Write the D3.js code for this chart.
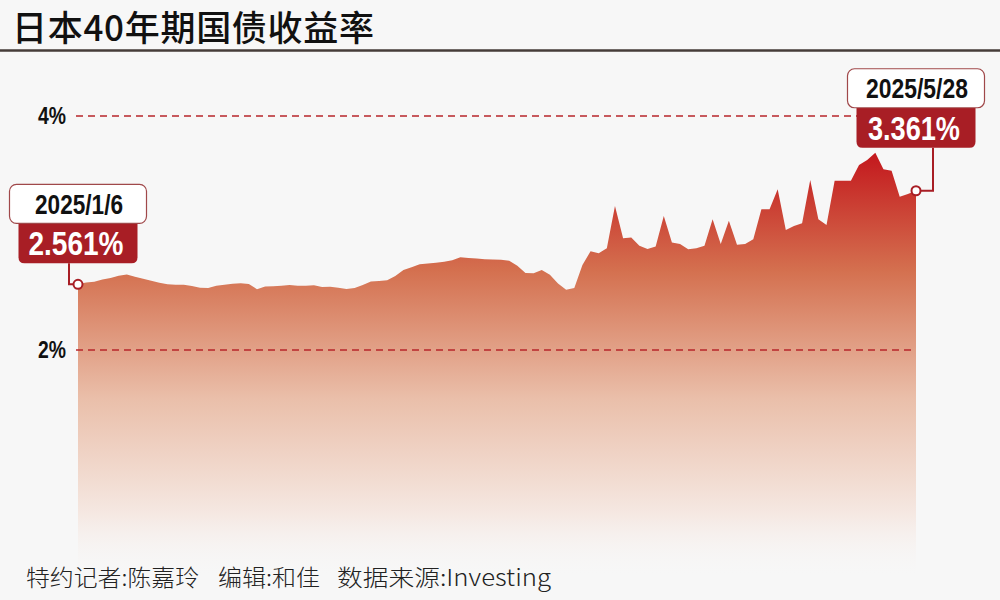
<!DOCTYPE html>
<html><head><meta charset="utf-8">
<script src="https://cdn.jsdelivr.net/npm/d3@7/dist/d3.min.js"></script>
<style>body{margin:0;background:#f7f7f7;} svg{display:block}</style>
</head><body><svg id="c" width="1000" height="600"></svg>
<script>
const titleText = "日本40年期国债收益率";
const footerParts = ["特约记者:陈嘉玲", "编辑:和佳", "数据来源:Investing"];
const startLabel = "2025/1/6";
const endLabel = "2025/5/28";
const yTicks = [2, 4];
const yTickLabels = ["2%", "4%"];
// 40-year JGB yield (%), trading days 2025/1/6 - 2025/5/28
const yields = [
  2.561, 2.577, 2.584, 2.603, 2.616, 2.635, 2.645, 2.627, 2.609, 2.591,
  2.574, 2.562, 2.558, 2.558, 2.547, 2.532, 2.530, 2.549, 2.558, 2.566,
  2.571, 2.564, 2.520, 2.542, 2.545, 2.550, 2.556, 2.550, 2.549, 2.554,
  2.538, 2.540, 2.533, 2.521, 2.530, 2.556, 2.585, 2.590, 2.597, 2.632,
  2.684, 2.708, 2.732, 2.739, 2.746, 2.754, 2.768, 2.792, 2.786, 2.781,
  2.776, 2.774, 2.772, 2.763, 2.720, 2.658, 2.657, 2.683, 2.643, 2.568,
  2.515, 2.530, 2.726, 2.844, 2.827, 2.869, 3.231, 2.956, 2.962, 2.892,
  2.863, 2.885, 3.145, 2.918, 2.906, 2.862, 2.869, 2.891, 3.117, 2.906,
  3.105, 2.900, 2.906, 2.946, 3.203, 3.203, 3.374, 3.026, 3.060, 3.083,
  3.453, 3.117, 3.068, 3.447, 3.447, 3.447, 3.581, 3.624, 3.686, 3.544,
  3.532, 3.310, 3.333, 3.361
];

const svg = d3.select("#c");
const W = 1000, H = 600;
const bold = "'Liberation Sans','Arial',sans-serif";
const cjk = "'Noto Sans CJK SC','Noto Sans',sans-serif";

svg.append("rect").attr("width", W).attr("height", H).attr("fill", "#f7f7f7");

// title
svg.append("text").attr("x", 12).attr("y", 41)
  .attr("font-family", cjk).attr("font-size", 35).attr("font-weight", 500)
  .attr("fill", "#111").attr("textLength", 362).attr("lengthAdjust", "spacing")
  .text(titleText);
svg.append("line").attr("x1", 0).attr("x2", W).attr("y1", 50.5).attr("y2", 50.5)
  .attr("stroke", "#463d39").attr("stroke-width", 2.5);

const x = d3.scaleLinear().domain([0, yields.length - 1]).range([78, 916]);
const y = d3.scaleLinear().domain([2, 4]).range([350, 116]);

// gradient
const defs = svg.append("defs");
const g = defs.append("linearGradient").attr("id", "ag")
  .attr("gradientUnits", "userSpaceOnUse")
  .attr("x1", 0).attr("x2", 0).attr("y1", y(3.7)).attr("y2", 578);
[[0, "#c3161c", 1], [0.28, "#d4704f", 1], [0.58, "#eabfaa", 1], [0.85, "#f5e8e2", 1], [1, "#f7f7f7", 0]]
  .forEach(s => g.append("stop").attr("offset", s[0]).attr("stop-color", s[1]).attr("stop-opacity", s[2]));

const area = d3.area().x((d, i) => x(i)).y0(y(0)).y1(d => y(d));
svg.append("path").datum(yields).attr("d", area).attr("fill", "url(#ag)");

// grid + tick labels
yTicks.forEach((t, i) => {
  svg.append("line").attr("x1", 76).attr("x2", 916).attr("y1", y(t)).attr("y2", y(t))
    .attr("stroke", "#b8262b").attr("stroke-width", 1.3).attr("stroke-dasharray", "7,5");
  svg.append("text").attr("x", 66).attr("y", y(t)).attr("dy", "0.36em")
    .attr("text-anchor", "end").attr("font-family", bold).attr("font-weight", "bold")
    .attr("font-size", 23).attr("fill", "#111")
    .attr("textLength", 28).attr("lengthAdjust", "spacingAndGlyphs")
    .text(yTickLabels[i]);
});

// annotations
function annotate(idx, dateText, side, dateW, valW) {
  const px = x(idx), py = y(yields[idx]);
  const red = "#a81e25";
  let elbowX, by;
  if (side === "left") { elbowX = px - 9; by = py - 21; }
  else { elbowX = px + 17; by = py - 43; }
  const bx = px;
  svg.append("path")
    .attr("d", `M${px},${py} H${elbowX} V${by}`)
    .attr("fill", "none").attr("stroke", red).attr("stroke-width", 2);
  const rw = 119, rh = 40, r = 6;
  const rx0 = bx - rw / 2, ry0 = by - rh;
  svg.append("path").attr("d",
    `M${rx0},${ry0} H${rx0 + rw} V${by - r} Q${rx0 + rw},${by} ${rx0 + rw - r},${by} H${rx0 + r} Q${rx0},${by} ${rx0},${by - r} Z`)
    .attr("fill", red);
  svg.append("text").attr("x", bx - 2).attr("y", ry0 + rh / 2).attr("dy", "0.36em")
    .attr("text-anchor", "middle").attr("font-family", bold).attr("font-weight", "bold")
    .attr("font-size", 33).attr("fill", "#fff")
    .attr("textLength", valW).attr("lengthAdjust", "spacingAndGlyphs")
    .text(yields[idx].toFixed(3) + "%");
  const ww = 137, wh = 39;
  svg.append("rect").attr("x", bx - ww / 2).attr("y", ry0 - wh)
    .attr("width", ww).attr("height", wh).attr("rx", 7)
    .attr("fill", "#fff").attr("stroke", "#a0484a").attr("stroke-width", 1.2);
  svg.append("text").attr("x", bx + 1).attr("y", ry0 - wh / 2).attr("dy", "0.36em")
    .attr("text-anchor", "middle").attr("font-family", bold).attr("font-weight", "bold")
    .attr("font-size", 27).attr("fill", "#111")
    .attr("textLength", dateW).attr("lengthAdjust", "spacingAndGlyphs")
    .text(dateText);
  svg.append("circle").attr("cx", px).attr("cy", py).attr("r", 4.5)
    .attr("fill", "#fff").attr("stroke", red).attr("stroke-width", 2);
}
annotate(0, startLabel, "left", 88, 95);
annotate(yields.length - 1, endLabel, "right", 102, 92);

// footer
const footX = [26, 218, 337], footW = [173, 102, 214];
footerParts.forEach((t, i) => {
  svg.append("text").attr("x", footX[i]).attr("y", 586)
    .attr("font-family", cjk).attr("font-size", 23).attr("font-weight", 300).attr("fill", "#222")
    .attr("textLength", footW[i]).attr("lengthAdjust", "spacingAndGlyphs")
    .text(t);
});
</script></body></html>
